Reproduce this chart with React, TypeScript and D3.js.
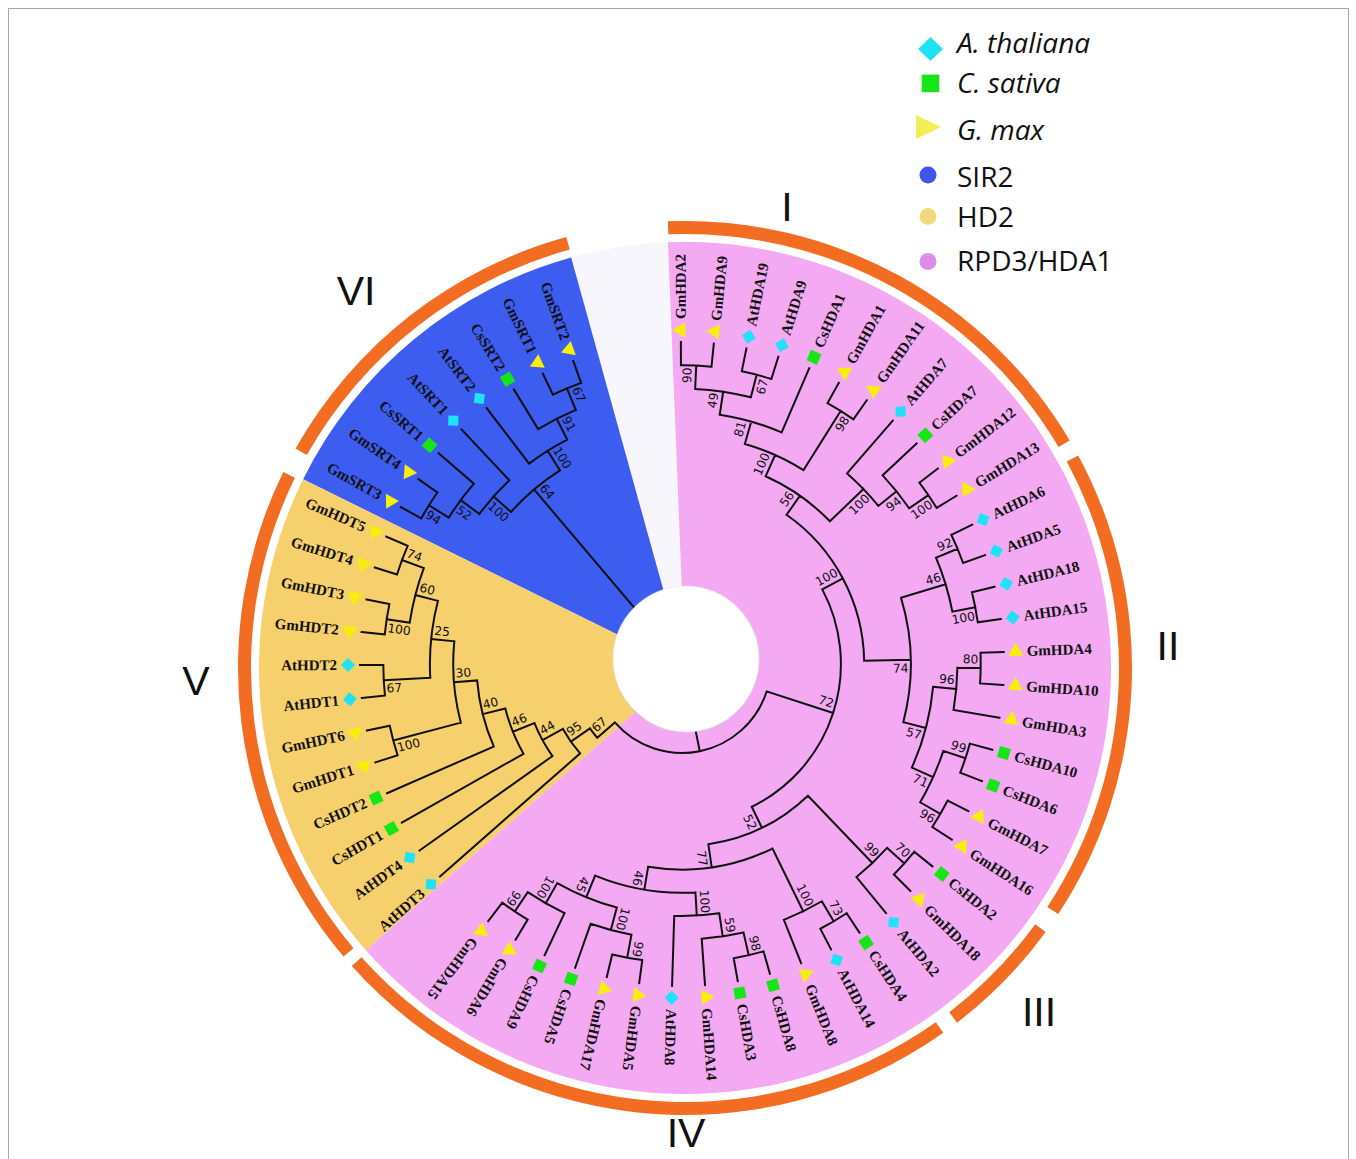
import React from "react";
import * as d3 from "d3";

const W = 1356;
const H = 1159;

// ---------------------------------------------------------------- data
const SPECIES = ["A. thaliana", "C. sativa", "G. max"];
const SPECIES_PREFIX = ["At", "Cs", "Gm"];
const SPECIES_COLOR = ["#1fe2f6", "#16e516", "#f7ee0a"];
const LEGEND_SPECIES_COLOR = ["#1fe2f6", "#16e516", "#f2ee55"];

const FAMILIES = ["SIR2", "HD2", "RPD3/HDA1"];
const FAMILY_COLOR = ["#4055ea", "#f1da7e", "#df8be9"];
const SECTOR_COLOR = ["#3d5cf0", "#f6d06c", "#f3aaf3"];
const SECTOR_FROM = [296.3, 228.5, -2.3];
const SECTOR_TO = [344.5, 296.3, 228.5];
const GAP_COLOR = "#f7f6fc";

const GROUPS = ["I", "II", "III", "IV", "V", "VI"];
const GROUP_FROM = [-2.2, 61.6, 126.2, 144.7, 229.8, 299.4];
const GROUP_TO = [59.4, 123.4, 142.5, 228.2, 296.0, 344.6];

// Topology with bootstrap support, leaves listed clockwise from 12 o'clock.
const CLADE_HDA_A =
  "((((((GmHDA2,GmHDA9)90,(AtHDA19,AtHDA9)67)49,CsHDA1)81,(GmHDA1,GmHDA11)98)100," +
  "(AtHDA7,(CsHDA7,(GmHDA12,GmHDA13)100)94)100)56," +
  "(((AtHDA6,AtHDA5)92,(AtHDA18,AtHDA15)100)46," +
  "(((GmHDA4,GmHDA10)80,GmHDA3)96,((CsHDA10,CsHDA6)99,(GmHDA7,GmHDA16)96)71)57)74)100";
const CLADE_HDA_B =
  "(((CsHDA2,GmHDA18)70,AtHDA2)99,(((CsHDA4,AtHDA14)73,GmHDA8)100," +
  "((((CsHDA8,CsHDA3)98,GmHDA14)59,AtHDA8)100," +
  "(((GmHDA5,GmHDA17)99,CsHDA5)100,(CsHDA9,(GmHDA6,GmHDA15)99)100)45)46)77)52";
// the first (unnamed) branch of the HD2 clade is pruned and not drawn
const CLADE_HD2 =
  "(,(AtHDT3,(AtHDT4,(CsHDT1,(CsHDT2,((GmHDT1,GmHDT6)100,((AtHDT1,AtHDT2)67," +
  "((GmHDT2,GmHDT3)100,(GmHDT4,GmHDT5)74)60)25)30)40)46)44)95)67";
const CLADE_SIR2 =
  "((((GmSRT3,GmSRT4)94,CsSRT1)52,AtSRT1)100,(AtSRT2,(CsSRT2,(GmSRT1,GmSRT2)67)91)100)64";
const NEWICK = `(((${CLADE_HDA_A},${CLADE_HDA_B})72,${CLADE_HD2}),${CLADE_SIR2});`;

// ---------------------------------------------------------------- layout
const CX = 682; // tree centre
const CY = 664;
const SX = 685; // sector / ring centre
const SY = 668;
const HOLE = { x: 686, y: 659, r: 73 };
const SECTOR_R = 426;
const RING_IN = 434;
const RING_OUT = 447;
const TIP_R = 322;
const MARK_R = 334;
const LABEL_R = 345;
const FIRST_ANGLE = -0.2;
const LAST_ANGLE = 340.26;
const FLIP_FROM = 225;

const GROUP_POS: [number, number][] = [
  [787, 207], [1168, 646], [1039, 1012], [686, 1133], [196, 681], [356, 291],
];

type TNode = { name: string; support?: number; children?: TNode[] };

function parseNewick(s: string): TNode {
  let i = 0;
  const node = (): TNode => {
    const n: TNode = { name: "" };
    if (s[i] === "(") {
      i++;
      n.children = [node()];
      while (s[i] === ",") {
        i++;
        n.children.push(node());
      }
      i++;
    }
    let label = "";
    while (i < s.length && !",();".includes(s[i])) label += s[i++];
    if (n.children) {
      if (label) n.support = +label;
    } else n.name = label;
    return n;
  };
  return node();
}

const rad = (a: number) => (a * Math.PI) / 180;
const polar = (a: number, r: number): [number, number] => [
  CX + r * Math.sin(rad(a)),
  CY - r * Math.cos(rad(a)),
];

type PNode = d3.HierarchyNode<TNode> & { angle: number; r: number };

function buildTree() {
  const root = d3.hierarchy(parseNewick(NEWICK)) as PNode;
  const leaves = root.leaves() as PNode[];
  const angle = d3.scaleLinear().domain([0, leaves.length - 1]).range([FIRST_ANGLE, LAST_ANGLE]);
  const radius = d3.scaleLinear().domain([0, 10]).range([TIP_R, 89]);
  leaves.forEach((l, i) => (l.angle = angle(i)));
  root.eachAfter((n: any) => {
    if (n.children) {
      n.angle = (n.children[0].angle + n.children[n.children.length - 1].angle) / 2;
    }
    n.r = radius(n.height);
  });
  return root;
}

const arcPath = (a0: number, a1: number, r: number) => {
  const p0 = polar(a0, r);
  const p1 = polar(a1, r);
  const large = a1 - a0 > 180 ? 1 : 0;
  return `M${p0[0]},${p0[1]}A${r},${r} 0 ${large} 1 ${p1[0]},${p1[1]}`;
};

export default function App() {
  const root = React.useMemo(buildTree, []);
  const nodes = root.descendants() as PNode[];
  const leaves = root.leaves() as PNode[];

  const sectorArc = d3.arc<any>().innerRadius(0).outerRadius(SECTOR_R);
  const ringArc = d3.arc<any>().innerRadius(RING_IN).outerRadius(RING_OUT);

  const branchPaths: string[] = [];
  nodes.forEach((n) => {
    const p = n.parent as PNode | null;
    if (p && !(n.children == null && n.data.name === "")) {
      const a = polar(n.angle, p.r);
      const b = polar(n.angle, n.r);
      branchPaths.push(`M${a[0]},${a[1]}L${b[0]},${b[1]}`);
    }
    if (n.children) {
      const vis = (n.children as PNode[])
        .filter((c) => c.children || c.data.name !== "")
        .map((c) => c.angle)
        .concat([n.angle]);
      const a0 = d3.min(vis)!;
      const a1 = d3.max(vis)!;
      if (a1 > a0) branchPaths.push(arcPath(a0, a1, n.r));
    }
  });

  const supports = nodes.filter((n) => n.data.support != null && n.parent) as PNode[];

  const markerPath = (sp: number) => {
    if (sp === 0) return d3.symbol(d3.symbolSquare, 100)()!;
    if (sp === 1) return d3.symbol(d3.symbolSquare, 128)()!;
    return d3.symbol(d3.symbolTriangle, 98)()!;
  };

  return (
    <svg
      width={W}
      height={H}
      viewBox={`0 0 ${W} ${H}`}
      style={{ position: "absolute", left: 0, top: 0, background: "#ffffff" }}
    >
      <rect x={8.5} y={8.5} width={1340} height={1165} fill="#ffffff" stroke="#a8a8a8" strokeWidth={1} />

      {/* family sectors */}
      <g transform={`translate(${SX},${SY})`}>
        <path
          d={sectorArc({ startAngle: rad(SECTOR_TO[0]), endAngle: rad(360 + SECTOR_FROM[2]) })!}
          fill={GAP_COLOR}
        />
        {FAMILIES.map((f, i) => (
          <path
            key={f}
            d={sectorArc({ startAngle: rad(SECTOR_FROM[i]), endAngle: rad(SECTOR_TO[i]) })!}
            fill={SECTOR_COLOR[i]}
          />
        ))}
        {GROUPS.map((g, i) => (
          <path
            key={g}
            d={ringArc({ startAngle: rad(GROUP_FROM[i]), endAngle: rad(GROUP_TO[i]) })!}
            fill="#f26c22"
          />
        ))}
      </g>

      {/* branches */}
      <path
        d={branchPaths.join("")}
        fill="none"
        stroke="#111111"
        strokeWidth={2}
        strokeLinecap="square"
      />

      <circle cx={HOLE.x} cy={HOLE.y} r={HOLE.r} fill="#ffffff" stroke="#e6e6e6" strokeWidth={0.8} />

      {/* bootstrap values */}
      <g fontFamily="'DejaVu Sans', Verdana, sans-serif" fontSize={12.2} fill="#111111">
        {supports.map((n, i) => {
          const p = n.parent as PNode;
          const side = n.angle >= p.angle ? 1 : -1;
          const txt = String(n.data.support);
          const rc = n.r - 3 - (txt.length * 7.2) / 2;
          const t = rad(n.angle);
          const x = CX + rc * Math.sin(t) + side * 8.5 * Math.cos(t);
          const y = CY - rc * Math.cos(t) + side * 8.5 * Math.sin(t);
          const rot = n.angle > FLIP_FROM ? n.angle + 90 : n.angle - 90;
          return (
            <text
              key={i}
              x={x}
              y={y}
              transform={`rotate(${rot},${x},${y})`}
              textAnchor="middle"
              dominantBaseline="central"
            >
              {txt}
            </text>
          );
        })}
      </g>

      {/* leaf markers and names */}
      <g>
        {leaves
          .filter((l) => l.data.name !== "")
          .map((l) => {
            const sp = SPECIES_PREFIX.indexOf(l.data.name.slice(0, 2));
            const flip = l.angle > FLIP_FROM;
            const base = `translate(${CX},${CY}) rotate(${l.angle - 90})`;
            return (
              <g key={l.data.name}>
                <path
                  d={markerPath(sp)}
                  transform={`${base} translate(${MARK_R},0)${sp === 0 ? " rotate(45)" : ""}`}
                  fill={SPECIES_COLOR[sp]}
                />
                <text
                  transform={`${base} translate(${LABEL_R},0)${flip ? " rotate(180)" : ""}`}
                  textAnchor={flip ? "end" : "start"}
                  dominantBaseline="central"
                  fontFamily="'Liberation Serif', 'Times New Roman', serif"
                  fontWeight="bold"
                  fontSize={15}
                  fill="#111111"
                >
                  {l.data.name}
                </text>
              </g>
            );
          })}
      </g>

      {/* subgroup numerals */}
      <g
        fontFamily="'Liberation Sans Narrow', 'Arial Narrow', 'Liberation Sans', sans-serif"
        fontSize={41}
        fill="#111111"
        textAnchor="middle"
        dominantBaseline="central"
      >
        {GROUPS.map((g, i) => (
          <text key={g} x={GROUP_POS[i][0]} y={GROUP_POS[i][1]}>
            {g}
          </text>
        ))}
      </g>

      {/* legend */}
      <g fontFamily="'Open Sans', 'Noto Sans', sans-serif" fontSize={28} fill="#111111">
        <path d="M930.5,37 L943,49 L930.5,61 L918,49 Z" fill={LEGEND_SPECIES_COLOR[0]} />
        <rect x={921.7} y={74.6} width={17.6} height={17.6} fill={LEGEND_SPECIES_COLOR[1]} />
        <path d="M916,115 L941,127 L916,139 Z" fill={LEGEND_SPECIES_COLOR[2]} />
        {SPECIES.map((s, i) => (
          <text key={s} x={957} y={[53, 93, 140][i]} fontStyle="italic">
            {s}
          </text>
        ))}
        {FAMILIES.map((f, i) => (
          <g key={f}>
            <circle cx={928} cy={[175, 216.5, 261.5][i]} r={8.5} fill={FAMILY_COLOR[i]} />
            <text x={957} y={[187, 227, 271][i]}>
              {f}
            </text>
          </g>
        ))}
      </g>
    </svg>
  );
}
